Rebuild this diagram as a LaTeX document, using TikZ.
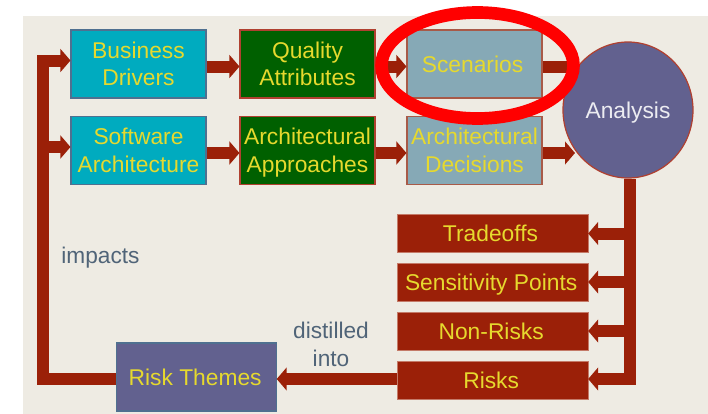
\documentclass[tikz,border=0pt]{standalone}
\usepackage{fontspec}
\setmainfont{Liberation Sans}
\usetikzlibrary{arrows.meta,calc,shapes.geometric}
\definecolor{panelc}{HTML}{EEEBE3}
\definecolor{rustc}{HTML}{9B2008}
\definecolor{tealc}{HTML}{00ABBF}
\definecolor{greenc}{HTML}{006000}
\definecolor{slatec}{HTML}{86A9B6}
\definecolor{purplec}{HTML}{62618F}
\definecolor{yellowc}{HTML}{E6D92E}
\definecolor{labelc}{HTML}{506478}
\definecolor{blueedge}{HTML}{4F7090}
\definecolor{rededge}{HTML}{B04030}
\definecolor{softedge}{HTML}{A85A48}
\definecolor{paleedge}{HTML}{C47A68}
\newcommand{\ts}{\rule[-4pt]{0pt}{20pt}}
\tikzset{
  x=0.75pt,y=-0.75pt,
  boxbase/.style={draw,line width=0.8pt,align=center,inner sep=0pt,text=yellowc,
    font=\fontsize{17.1}{20.3}\selectfont,minimum width=101.25pt,minimum height=51pt},
  tealbox/.style={boxbase,fill=tealc,draw=blueedge},
  greenbox/.style={boxbase,fill=greenc,draw=rededge},
  slatebox/.style={boxbase,fill=slatec,draw=softedge},
  riskbox/.style={boxbase,fill=rustc,draw=paleedge,line width=0.5pt,minimum width=143pt,minimum height=28.5pt},
  themebox/.style={boxbase,fill=purplec,draw=blueedge,minimum width=119.5pt},
  analysisnode/.style={ellipse,draw=rededge,line width=0.9pt,fill=purplec,text=white!88!purplec,
    inner sep=0pt,minimum width=97.5pt,minimum height=102pt,font=\fontsize{17.1}{20.3}\selectfont},
  flow/.style={draw=rustc,line width=9pt,-{Triangle[length=7.5pt,width=17pt]}},
  plainflow/.style={draw=rustc,line width=9pt},
  note/.style={text=labelc,align=center,inner sep=0pt,font=\fontsize{17}{20.5}\selectfont}
}
\begin{document}
\begin{tikzpicture}
\useasboundingbox (0,0) rectangle (708,414);
\fill[panelc] (23,16) rectangle (708,414);

\node[tealbox] (drivers) at (138.5,64) {\ts Business\\\ts Drivers};
\node[greenbox] (quality) at (307.5,64) {\ts Quality\\\ts Attributes};
\node[slatebox] (scenarios) at (474.5,64) {\ts Scenarios\kern3pt};
\node[tealbox] (software) at (138.5,150.5) {\ts Software\\\ts Architecture};
\node[greenbox] (approaches) at (307.5,150.5) {\ts Architectural\\\ts Approaches};
\node[slatebox] (decisions) at (474.5,150.5) {\ts Architectural\\\ts Decisions};
\node[analysisnode] (analysis) at (628,110) {\ts Analysis};
\node[riskbox] (tradeoffs) at (492.5,233.5) {\ts Tradeoffs\kern3pt};
\node[riskbox] (sensitivity) at (492.5,282) {\ts Sensitivity Points\kern2pt};
\node[riskbox] (nonrisks) at (492.5,331) {\ts Non-Risks\kern2pt};
\node[riskbox] (risks) at (492.5,380) {\ts Risks\kern2pt};
\node[themebox] (themes) at (196.5,377) {\ts Risk Themes\kern2pt};

\node[note] (impacts) at (100.5,258) {impacts};
\node[note] (distilled) at (331,344.5) {distilled\\into};

\coordinate (loopcorner) at (43,379);
\coordinate (looptop) at (43,60.5);
\coordinate (busdown) at (630,379);

% feedback loop
\draw[plainflow,line join=miter] ($(themes.west)+(0,2)$) -- (loopcorner) -- ($(looptop)+(0,-6)$);
\draw[flow] (looptop) -- (drivers.west |- looptop);
\draw[flow] (loopcorner |- 0,147) -- (software.west |- 0,147);

% top rows
\draw[flow] ($(drivers.east)+(0,2.5)$) -- ($(quality.west)+(0,2.5)$);
\draw[flow] ($(quality.east)+(0,2.5)$) -- ($(scenarios.west)+(0,2.5)$);
\draw[flow] ($(software.east)+(0,2.5)$) -- ($(approaches.west)+(0,2.5)$);
\draw[flow] ($(approaches.east)+(0,2.5)$) -- ($(decisions.west)+(0,2.5)$);
\draw[plainflow] ($(scenarios.east)+(0,2.5)$) -- (575,66.5);
\draw[flow] ($(decisions.east)+(0,2.5)$) -- (575,153);

% analysis outputs
\draw[plainflow] (analysis.south -| busdown) -- ($(busdown)+(0,6)$);
\draw[flow] (busdown |- tradeoffs.east) -- (tradeoffs.east);
\draw[flow] (busdown |- sensitivity.east) -- (sensitivity.east);
\draw[flow] (busdown |- nonrisks.east) -- (nonrisks.east);
\draw[flow] (busdown) -- (risks.east |- busdown);
\draw[flow] (risks.west |- busdown) -- (themes.east |- busdown);

% highlight
\node[draw=red,line width=9.5pt,ellipse,inner sep=0pt,minimum width=144pt,minimum height=79.5pt] (highlight) at (477.5,65.5) {};
\end{tikzpicture}
\end{document}
